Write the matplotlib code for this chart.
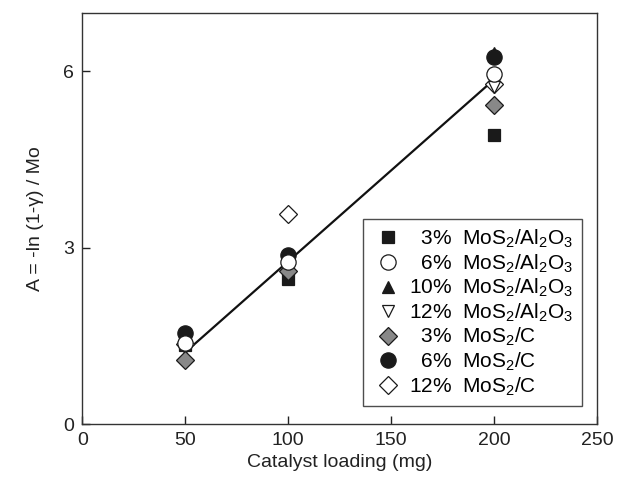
import matplotlib
matplotlib.use("Agg")
import matplotlib.pyplot as plt

plt.rcParams['font.family'] = ['Liberation Sans', 'DejaVu Sans']
plt.rcParams['mathtext.fontset'] = 'custom'
plt.rcParams['mathtext.rm'] = 'Liberation Sans'
plt.rcParams['mathtext.it'] = 'Liberation Sans:italic'
plt.rcParams['mathtext.bf'] = 'Liberation Sans:bold'

# catalyst loading (mg)
loading = [50, 100, 200]

# A = -ln(1-y)/Mo for each catalyst
al2o3_3 = [1.34, 2.46, 4.92]
al2o3_6 = [1.38, 2.76, 5.96]
al2o3_10 = [1.40, 2.70, 6.32]
al2o3_12 = [1.38, 2.68, 5.74]
c_3 = [1.09, 2.60, 5.42]
c_6 = [1.55, 2.88, 6.24]
c_12 = [1.36, 3.57, 5.78]

# linear fit line endpoints
fit_x = [50, 200]
fit_y = [1.22, 5.86]

fs = "\u2007"  # figure space, width of one digit
labels = [
    fs + "3%  MoS$_2$/Al$_2$O$_3$",
    fs + "6%  MoS$_2$/Al$_2$O$_3$",
    "10%  MoS$_2$/Al$_2$O$_3$",
    "12%  MoS$_2$/Al$_2$O$_3$",
    fs + "3%  MoS$_2$/C",
    fs + "6%  MoS$_2$/C",
    "12%  MoS$_2$/C",
]

fig = plt.figure(figsize=(6.18, 4.83), dpi=100)
ax = fig.add_axes([0.133, 0.122, 0.833, 0.852])

ax.plot(fit_x, fit_y, color='#111111', lw=1.6, zorder=2)

# (data, marker, size, face, zorder)
series = [
    (al2o3_3, 's', 8.5, '#1a1a1a', 5),
    (al2o3_6, 'o', 11, 'white', 9),
    (al2o3_10, '^', 8, '#1a1a1a', 6),
    (al2o3_12, 'v', 8.5, 'white', 4),
    (c_3, 'D', 9.5, '#888888', 8),
    (c_6, 'o', 11, '#1a1a1a', 7),
    (c_12, 'D', 9.5, 'white', 3),
]

for (vals, m, ms, fc, z), lab in zip(series, labels):
    ax.plot(loading, vals, linestyle='none', marker=m, markersize=ms,
            markerfacecolor=fc, markeredgecolor='#1a1a1a', markeredgewidth=0.9,
            label=lab, zorder=z)

ax.set_xlim(0, 250)
ax.set_ylim(0, 7)
ax.set_xticks([0, 50, 100, 150, 200, 250])
ax.set_yticks([0, 3, 6])
ax.tick_params(direction='in', length=6, width=1, labelsize=14, pad=6, colors='#222222')
for s in ax.spines.values():
    s.set_linewidth(1.0)
    s.set_color('#333333')

ax.set_xlabel("Catalyst loading (mg)", fontsize=14, color='#222222', labelpad=3)
ax.set_ylabel("A = -ln (1-\u03b3) / Mo", fontsize=14, color='#222222', labelpad=14)

leg = ax.legend(loc='lower right', bbox_to_anchor=(0.970, 0.044), fontsize=15,
                frameon=True, fancybox=False, edgecolor='#222222',
                handletextpad=0.2, labelspacing=0.11, borderpad=0.4,
                handlelength=1.6, markerscale=1.0, borderaxespad=0)
leg.get_frame().set_linewidth(1.0)

fig.savefig("out.png", dpi=100)
